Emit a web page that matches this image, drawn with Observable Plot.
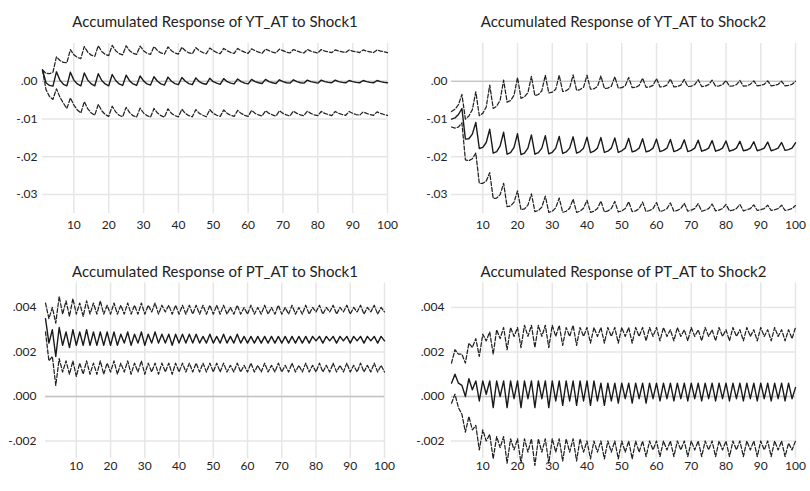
<!DOCTYPE html>
<html><head><meta charset="utf-8">
<script src="https://cdn.jsdelivr.net/npm/d3@7"></script>
<script src="https://cdn.jsdelivr.net/npm/@observablehq/plot@0.6"></script>
<style>
body{margin:0;background:#fff;}
#wrap{position:relative;width:810px;height:491px;overflow:hidden;}
#wrap svg{position:absolute;}
</style></head><body><div id="wrap"></div>
<script>
// Periods 1..100 (horizontal axis)
const periods = d3.range(1, 101);
const xTicks = [10, 20, 30, 40, 50, 60, 70, 80, 90, 100];
const yTicksYT = [0, -0.01, -0.02, -0.03];
const yLabelsYT = [".00", "-.01", "-.02", "-.03"];
const yTicksPT = [0.004, 0.002, 0, -0.002];
const yLabelsPT = [".004", ".002", ".000", "-.002"];
const titles = ["Accumulated Response of YT_AT to Shock1", "Accumulated Response of YT_AT to Shock2",
                "Accumulated Response of PT_AT to Shock1", "Accumulated Response of PT_AT to Shock2"];

// YT_AT to Shock1
const yt1Mid = [.0030,-.0004,-.0011,-.0013, .0025,.0003,-.0008,-.0012, .0024,.0003,-.0007,-.0012, .0022,.0003,-.0007,-.0012,
 .0020,.0002,-.0007,-.0012, .0018,.0002,-.0007,-.0011, .0016,.0001,-.0007,-.0011, .0014,.0001,-.0007,-.0010,
 .0012,.0000,-.0007,-.0010, .0011,.0000,-.0006,-.0009, .0010,.0000,-.0006,-.0009, .0009,-.0001,-.0006,-.0008,
 .0008,-.0001,-.0005,-.0008, .0007,-.0001,-.0005,-.0007, .0006,-.0001,-.0005,-.0007, .0005,-.0001,-.0004,-.0006,
 .0005,-.0001,-.0004,-.0006, .0004,-.0001,-.0004,-.0005, .0004,-.0001,-.0004,-.0005, .0003,-.0001,-.0003,-.0005,
 .0003,-.0001,-.0003,-.0004, .0003,-.0001,-.0003,-.0004, .0002,-.0001,-.0003,-.0004, .0002,-.0001,-.0003,-.0004,
 .0002,-.0001,-.0003,-.0004];
const yt1Up = [.0030,.0021,.0020,.0024, .0065,.0055,.0050,.0049, .0084,.0070,.0063,.0060, .0092,.0077,.0069,.0066,
 .0094,.0079,.0071,.0068, .0095,.0081,.0073,.0070, .0094,.0081,.0074,.0071, .0093,.0081,.0074,.0071,
 .0092,.0081,.0075,.0072, .0091,.0081,.0075,.0072, .0090,.0081,.0075,.0073, .0089,.0081,.0076,.0073,
 .0088,.0081,.0076,.0073, .0087,.0081,.0076,.0074, .0087,.0081,.0077,.0074, .0086,.0081,.0077,.0074,
 .0085,.0081,.0077,.0075, .0085,.0081,.0077,.0075, .0084,.0080,.0077,.0075, .0084,.0080,.0077,.0075,
 .0084,.0080,.0078,.0076, .0083,.0080,.0078,.0076, .0083,.0080,.0078,.0076, .0083,.0080,.0078,.0076,
 .0083,.0080,.0078,.0076];
const yt1Lo = [.0030,-.0022,-.0040,-.0048, -.0020,-.0042,-.0058,-.0072, -.0044,-.0063,-.0076,-.0084, -.0054,-.0073,-.0084,-.0090,
 -.0061,-.0078,-.0088,-.0093, -.0066,-.0081,-.0090,-.0094, -.0069,-.0083,-.0091,-.0095, -.0071,-.0084,-.0091,-.0095,
 -.0072,-.0084,-.0091,-.0095, -.0073,-.0085,-.0091,-.0094, -.0074,-.0085,-.0091,-.0094, -.0075,-.0085,-.0090,-.0094,
 -.0075,-.0085,-.0090,-.0093, -.0076,-.0085,-.0090,-.0093, -.0077,-.0085,-.0090,-.0093, -.0077,-.0085,-.0089,-.0092,
 -.0078,-.0085,-.0089,-.0092, -.0078,-.0085,-.0089,-.0092, -.0079,-.0085,-.0089,-.0091, -.0079,-.0085,-.0089,-.0091,
 -.0080,-.0085,-.0088,-.0091, -.0080,-.0085,-.0088,-.0090, -.0080,-.0085,-.0088,-.0090, -.0081,-.0085,-.0088,-.0090,
 -.0081,-.0085,-.0088,-.0090];

// YT_AT to Shock2
const yt2Mid = [-.0100,-.0097,-.0088,-.0072, -.0153,-.0152,-.0140,-.0109, -.0178,-.0175,-.0162,-.0127, -.0190,-.0186,-.0171,-.0135,
 -.0193,-.0189,-.0175,-.0139, -.0194,-.0190,-.0177,-.0142, -.0193,-.0189,-.0177,-.0144, -.0192,-.0188,-.0177,-.0146,
 -.0191,-.0187,-.0177,-.0147, -.0190,-.0186,-.0177,-.0148, -.0189,-.0185,-.0177,-.0149, -.0188,-.0185,-.0177,-.0150,
 -.0188,-.0184,-.0177,-.0151, -.0187,-.0184,-.0177,-.0152, -.0187,-.0184,-.0177,-.0153, -.0186,-.0183,-.0177,-.0154,
 -.0186,-.0183,-.0177,-.0155, -.0186,-.0183,-.0177,-.0156, -.0185,-.0182,-.0177,-.0157, -.0185,-.0182,-.0177,-.0158,
 -.0185,-.0182,-.0177,-.0159, -.0184,-.0182,-.0177,-.0160, -.0184,-.0181,-.0177,-.0161, -.0184,-.0181,-.0177,-.0162,
 -.0183,-.0181,-.0177,-.0163];
const yt2Up = [-.0080,-.0074,-.0062,-.0035, -.0100,-.0092,-.0075,-.0028, -.0091,-.0085,-.0068,-.0010, -.0072,-.0066,-.0050,.0003,
 -.0055,-.0051,-.0037,.0010, -.0045,-.0041,-.0030,.0013, -.0038,-.0035,-.0025,.0016, -.0031,-.0029,-.0021,.0016,
 -.0027,-.0025,-.0018,.0017, -.0024,-.0022,-.0016,.0016, -.0021,-.0020,-.0014,.0014, -.0019,-.0018,-.0013,.0012,
 -.0018,-.0017,-.0012,.0010, -.0017,-.0016,-.0011,.0008, -.0016,-.0015,-.0011,.0007, -.0015,-.0014,-.0010,.0006,
 -.0015,-.0014,-.0010,.0005, -.0014,-.0013,-.0009,.0004, -.0014,-.0013,-.0009,.0003, -.0013,-.0012,-.0009,.0002,
 -.0013,-.0012,-.0009,.0002, -.0013,-.0012,-.0008,.0001, -.0012,-.0011,-.0008,.0001, -.0012,-.0011,-.0008,.0000,
 -.0012,-.0011,-.0008,.0000];
const yt2Lo = [-.0121,-.0124,-.0121,-.0110, -.0208,-.0210,-.0205,-.0190, -.0270,-.0270,-.0264,-.0242, -.0310,-.0309,-.0300,-.0270,
 -.0332,-.0330,-.0320,-.0290, -.0340,-.0338,-.0328,-.0298, -.0345,-.0342,-.0333,-.0304, -.0347,-.0344,-.0335,-.0309,
 -.0347,-.0344,-.0336,-.0312, -.0347,-.0344,-.0336,-.0315, -.0347,-.0344,-.0337,-.0317, -.0346,-.0343,-.0337,-.0318,
 -.0346,-.0343,-.0337,-.0319, -.0345,-.0343,-.0337,-.0320, -.0345,-.0342,-.0337,-.0321, -.0345,-.0342,-.0337,-.0322,
 -.0344,-.0342,-.0337,-.0323, -.0344,-.0341,-.0337,-.0324, -.0344,-.0341,-.0337,-.0325, -.0343,-.0341,-.0337,-.0326,
 -.0343,-.0341,-.0337,-.0326, -.0343,-.0340,-.0337,-.0327, -.0342,-.0340,-.0337,-.0328, -.0342,-.0340,-.0337,-.0328,
 -.0342,-.0340,-.0337,-.0329];

// PT_AT to Shock1
const pt1Mid = [.0035,.0024,.0030,.0018, .0031,.0023,.0029,.0022, .0030,.0023,.0029,.0023, .0030,.0023,.0029,.0023,
 .0029,.0023,.0029,.0023, .0029,.0023,.0028,.0024, .0029,.0023,.0028,.0024, .0029,.0023,.0028,.0024,
 .0029,.0024,.0028,.0024, .0028,.0023,.0028,.0024, .0028,.0024,.0028,.0024, .0028,.0024,.0027,.0024,
 .0028,.0024,.0027,.0024, .0028,.0024,.0027,.0024, .0028,.0024,.0027,.0024, .0027,.0024,.0027,.0024,
 .0027,.0024,.0027,.0024, .0027,.0024,.0027,.0024, .0027,.0024,.0027,.0024, .0027,.0024,.0027,.0025,
 .0027,.0024,.0027,.0025, .0027,.0024,.0027,.0025, .0027,.0024,.0027,.0025, .0027,.0024,.0027,.0025,
 .0027,.0024,.0027,.0025];
const pt1Up = [.0042,.0035,.0040,.0033, .0045,.0037,.0043,.0036, .0044,.0037,.0042,.0036, .0043,.0037,.0042,.0037,
 .0043,.0037,.0041,.0037, .0042,.0037,.0041,.0037, .0042,.0037,.0041,.0037, .0042,.0037,.0041,.0038,
 .0042,.0037,.0041,.0038, .0041,.0037,.0041,.0037, .0041,.0037,.0041,.0037, .0041,.0037,.0041,.0037,
 .0041,.0037,.0041,.0037, .0041,.0037,.0040,.0037, .0041,.0037,.0040,.0037, .0041,.0037,.0040,.0037,
 .0041,.0037,.0040,.0037, .0041,.0037,.0040,.0037, .0041,.0037,.0040,.0037, .0041,.0037,.0040,.0038,
 .0041,.0037,.0040,.0038, .0041,.0037,.0040,.0038, .0041,.0037,.0040,.0038, .0041,.0037,.0040,.0038,
 .0041,.0037,.0040,.0038];
const pt1Lo = [.0029,.0016,.0018,.0005, .0017,.0011,.0016,.0010, .0016,.0009,.0015,.0010, .0016,.0010,.0015,.0010,
 .0016,.0010,.0015,.0011, .0016,.0010,.0015,.0011, .0016,.0010,.0015,.0011, .0016,.0010,.0015,.0011,
 .0015,.0010,.0015,.0011, .0015,.0010,.0015,.0011, .0015,.0011,.0015,.0011, .0015,.0011,.0015,.0011,
 .0015,.0011,.0015,.0011, .0015,.0011,.0014,.0011, .0015,.0011,.0014,.0011, .0015,.0011,.0014,.0011,
 .0015,.0011,.0014,.0011, .0015,.0011,.0014,.0011, .0015,.0011,.0014,.0011, .0015,.0011,.0014,.0011,
 .0015,.0011,.0014,.0011, .0015,.0011,.0014,.0011, .0015,.0011,.0014,.0011, .0015,.0011,.0014,.0011,
 .0015,.0011,.0014,.0011];

// PT_AT to Shock2
const pt2Mid = [.0006,.0010,.0006,.0005, .0000,.0008,.0003,.0007, -.0002,.0007,.0001,.0007, -.0005,.0007,.0000,.0007,
 -.0005,.0007,-.0001,.0007, -.0005,.0007,-.0001,.0007, -.0005,.0007,-.0001,.0007, -.0005,.0007,-.0002,.0007,
 -.0004,.0007,-.0002,.0007, -.0004,.0007,-.0002,.0007, -.0004,.0007,-.0002,.0006, -.0004,.0006,-.0002,.0006,
 -.0003,.0006,-.0001,.0006, -.0003,.0006,-.0001,.0006, -.0003,.0006,-.0001,.0006, -.0002,.0006,-.0001,.0006,
 -.0002,.0006,-.0001,.0006, -.0002,.0006,-.0001,.0006, -.0002,.0006,-.0001,.0006, -.0002,.0006,-.0001,.0006,
 -.0002,.0006,-.0001,.0006, -.0002,.0006,-.0001,.0006, -.0002,.0006,-.0001,.0006, -.0002,.0006,-.0001,.0006,
 -.0002,.0006,-.0001,.0004];
const pt2Up = [.0015,.0021,.0019,.0019, .0015,.0024,.0022,.0026, .0018,.0028,.0025,.0029, .0019,.0030,.0026,.0031,
 .0021,.0031,.0027,.0031, .0022,.0032,.0027,.0032, .0022,.0032,.0027,.0032, .0022,.0032,.0027,.0032,
 .0023,.0031,.0027,.0032, .0023,.0031,.0027,.0031, .0024,.0031,.0027,.0031, .0024,.0031,.0027,.0031,
 .0024,.0031,.0027,.0031, .0024,.0031,.0027,.0031, .0025,.0031,.0027,.0031, .0025,.0031,.0027,.0030,
 .0025,.0031,.0027,.0030, .0025,.0031,.0027,.0030, .0025,.0031,.0027,.0030, .0025,.0031,.0027,.0030,
 .0025,.0031,.0027,.0030, .0025,.0031,.0027,.0030, .0025,.0031,.0027,.0030, .0025,.0031,.0027,.0030,
 .0025,.0030,.0026,.0031];
const pt2Lo = [-.0003,.0001,-.0005,-.0008, -.0016,-.0009,-.0015,-.0013, -.0024,-.0015,-.0020,-.0017, -.0028,-.0018,-.0023,-.0018,
 -.0030,-.0019,-.0024,-.0019, -.0030,-.0019,-.0025,-.0019, -.0031,-.0019,-.0025,-.0019, -.0030,-.0019,-.0025,-.0019,
 -.0029,-.0019,-.0025,-.0019, -.0029,-.0019,-.0025,-.0020, -.0028,-.0020,-.0025,-.0020, -.0028,-.0020,-.0025,-.0020,
 -.0028,-.0020,-.0025,-.0020, -.0028,-.0020,-.0025,-.0020, -.0027,-.0020,-.0024,-.0020, -.0027,-.0020,-.0024,-.0020,
 -.0027,-.0020,-.0024,-.0020, -.0027,-.0020,-.0024,-.0020, -.0027,-.0020,-.0024,-.0020, -.0027,-.0020,-.0024,-.0020,
 -.0027,-.0020,-.0024,-.0020, -.0027,-.0020,-.0024,-.0020, -.0027,-.0020,-.0024,-.0020, -.0027,-.0020,-.0024,-.0020,
 -.0027,-.0021,-.0024,-.0020];

const wrap = document.getElementById("wrap");
const FONT = "Lato, 'Open Sans', sans-serif";

function panel(c) {
  const rows = periods.map((t, i) => ({t, mid: c.mid[i], up: c.up[i], lo: c.lo[i]}));
  const chart = Plot.plot({
    width: 405, height: 245,
    marginLeft: c.mL, marginRight: c.mR, marginTop: c.mT, marginBottom: c.mB,
    style: {fontFamily: FONT, fontSize: "12px", color: "#222", background: "transparent", overflow: "visible"},
    x: {domain: [1, 100], label: null},
    y: {domain: c.domain, label: null},
    marks: [
      Plot.gridX(xTicks, {stroke: "#e6e6e6", strokeOpacity: 1, strokeWidth: 1.5}),
      Plot.gridY(c.yTicks, {stroke: "#e6e6e6", strokeOpacity: 1, strokeWidth: 1.5}),
      Plot.ruleY([0], {stroke: "#c4c4c4", strokeWidth: 1.3}),
      Plot.axisX(xTicks, {tickSize: 0, tickPadding: c.xPad, fill: "#222", label: null}),
      Plot.axisY(c.yTicks, {tickSize: 0, tickPadding: c.yPad, fill: "#222", label: null,
        tickFormat: d => c.yLabels[c.yTicks.indexOf(d)]}),
      Plot.lineY(rows, {x: "t", y: "up", stroke: "#222", strokeWidth: 1.25, strokeDasharray: "4,2"}),
      Plot.lineY(rows, {x: "t", y: "lo", stroke: "#222", strokeWidth: 1.25, strokeDasharray: "4,2"}),
      Plot.lineY(rows, {x: "t", y: "mid", stroke: "#1a1a1a", strokeWidth: 1.4}),
      Plot.text([c.title], {text: d => d, frameAnchor: "top", dy: c.titleDy, fontSize: 15, fill: "#222"})
    ]
  });
  chart.style.left = c.left + "px";
  chart.style.top = c.top + "px";
  wrap.append(chart);
}

panel({title: titles[0], mid: yt1Mid, up: yt1Up, lo: yt1Lo, yTicks: yTicksYT, yLabels: yLabelsYT,
  domain: [-0.035, 0.010], left: 0, top: 0, mL: 42, mR: 18, mT: 43, mB: 32, yPad: 5, xPad: 7, titleDy: -27});
panel({title: titles[1], mid: yt2Mid, up: yt2Up, lo: yt2Lo, yTicks: yTicksYT, yLabels: yLabelsYT,
  domain: [-0.035, 0.010], left: 405, top: 0, mL: 46, mR: 15, mT: 43, mB: 32, yPad: 4, xPad: 7, titleDy: -27});
panel({title: titles[2], mid: pt1Mid, up: pt1Up, lo: pt1Lo, yTicks: yTicksPT, yLabels: yLabelsPT,
  domain: [-0.0028, 0.0051], left: 0, top: 245, mL: 45, mR: 21, mT: 37.5, mB: 31.7, yPad: 9, xPad: 3, titleDy: -17});
panel({title: titles[3], mid: pt2Mid, up: pt2Up, lo: pt2Lo, yTicks: yTicksPT, yLabels: yLabelsPT,
  domain: [-0.0028, 0.0051], left: 405, top: 245, mL: 46, mR: 15, mT: 37.5, mB: 31.7, yPad: 7, xPad: 3, titleDy: -17});
</script>
</body></html>
